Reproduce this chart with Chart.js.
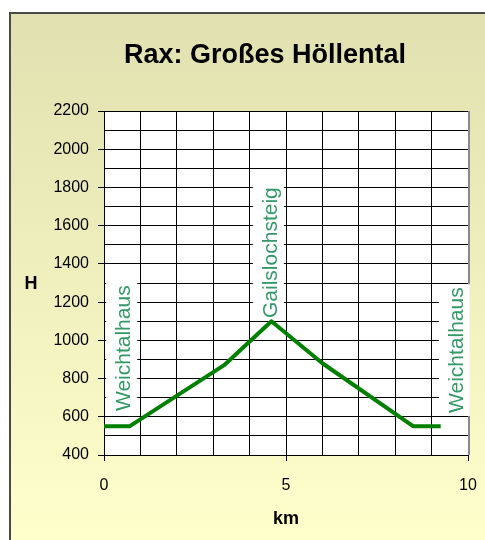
<!DOCTYPE html>
<html><head><meta charset="utf-8">
<script src="https://cdn.jsdelivr.net/npm/chart.js@4.4.1/dist/chart.umd.min.js"></script>
<style>html,body{margin:0;padding:0;background:#fff;}canvas{display:block;}</style>
</head><body>
<canvas id="c" width="485" height="540"></canvas>
<script>
// ---- data ----
const distanceKm = [0, 0.7, 3.3, 4.6, 6.0, 8.5, 9.25];
const elevationM = [550, 550, 870, 1100, 880, 550, 550];
const placeNames = ['Weichtalhaus', 'Gailslochsteig', 'Weichtalhaus'];
const placeKm = [0.72, 4.75, 9.86];
const placeElev = [630, 1117, 620];
const xTickLabels = [0, 5, 10];
const yTickLabels = [400, 600, 800, 1000, 1200, 1400, 1600, 1800, 2000, 2200];
const chartTitle = 'Rax: Großes Höllental';
const xTitle = 'km';
const yTitle = 'H';

const FONT = '"Liberation Sans", Arial, Helvetica, sans-serif';
Chart.defaults.font.family = FONT;
Chart.defaults.color = '#000';

const bgPlugin = {
  id: 'bg',
  afterLayout(chart) {
    // centre the title over the framed chart box, as in the original
    const t = chart.titleBlock;
    if (t) { t.left = 45; t.right = 485; }
  },
  beforeDraw(chart) {
    const {ctx, chartArea: a, width, height} = chart;
    ctx.save();
    ctx.fillStyle = '#fff';
    ctx.fillRect(0, 0, width, height);
    const g = ctx.createLinearGradient(0, 12, 0, height);
    g.addColorStop(0, '#E0E0B0');
    g.addColorStop(1, '#FFFFCC');
    ctx.fillStyle = g;
    ctx.fillRect(10, 12, width - 10, height - 12);
    ctx.strokeStyle = '#4a4a4a';
    ctx.lineWidth = 2;
    ctx.beginPath();
    ctx.moveTo(10, height);
    ctx.lineTo(10, 13);
    ctx.lineTo(width, 13);
    ctx.stroke();
    ctx.fillStyle = '#fff';
    ctx.fillRect(a.left, a.top, a.right - a.left, a.bottom - a.top);
    ctx.restore();
  },
  beforeDatasetsDraw(chart) {
    const {ctx, chartArea: a} = chart;
    ctx.save();
    ctx.strokeStyle = '#8a8a8a';
    ctx.lineWidth = 2;
    ctx.beginPath();
    ctx.moveTo(a.right + 1, a.top);
    ctx.lineTo(a.right + 1, a.bottom);
    ctx.stroke();
    // place labels
    const xs = chart.scales.x, ys = chart.scales.y;
    ctx.beginPath();
    ctx.rect(a.left, a.top, a.right - a.left + 2, a.bottom - a.top);
    ctx.clip();
    ctx.font = '21px ' + FONT;
    ctx.textBaseline = 'alphabetic';
    ctx.textAlign = 'left';
    placeNames.forEach((name, i) => {
      const px = xs.getPixelForValue(placeKm[i]);
      const py = ys.getPixelForValue(placeElev[i]);
      ctx.save();
      ctx.translate(px, py);
      ctx.rotate(-Math.PI / 2);
      const w = ctx.measureText(name).width;
      ctx.fillStyle = '#fff';
      ctx.fillRect(-3, -24, w + 6, 31);
      ctx.fillStyle = '#339966';
      ctx.fillText(name, 0, 0);
      ctx.restore();
    });
    ctx.restore();
  },
  afterDraw(chart) {
    const {ctx, chartArea: a} = chart;
    ctx.save();
    ctx.font = 'bold 18px ' + FONT;
    ctx.fillStyle = '#000';
    ctx.textAlign = 'center';
    ctx.textBaseline = 'middle';
    ctx.fillText(yTitle, a.left - 73, (a.top + a.bottom) / 2 + 1);
    ctx.restore();
  }
};

new Chart(document.getElementById('c'), {
  type: 'line',
  data: {
    datasets: [{
      data: distanceKm.map((x, i) => ({x, y: elevationM[i]})),
      borderColor: '#008000',
      borderWidth: 4,
      pointRadius: 0,
      tension: 0,
      borderJoinStyle: 'round',
      fill: false
    }]
  },
  options: {
    responsive: false,
    animation: false,
    devicePixelRatio: 1,
    layout: {padding: {top: 12, left: 0, right: 17, bottom: 0}},
    plugins: {
      legend: {display: false},
      tooltip: {enabled: false},
      title: {
        display: true,
        text: chartTitle,
        color: '#000',
        font: {size: 27, weight: 'bold', family: FONT},
        padding: {top: 27.8, bottom: 38.8}
      }
    },
    scales: {
      x: {
        type: 'linear',
        min: 0, max: 10,
        afterFit(s) { s.height = 85; s.paddingLeft = 10; s.paddingRight = 17; },
        afterBuildTicks(s) { s.ticks = []; for (let v = 0; v <= 10; v++) s.ticks.push({value: v}); },
        ticks: {
          autoSkip: false, maxRotation: 0, padding: 15,
          font: {size: 16},
          color: '#000',
          callback: v => xTickLabels.includes(v) ? String(v) : ''
        },
        grid: {
          color: '#000', lineWidth: 1, tickLength: 6,
          tickColor: c => (c.tick && xTickLabels.includes(c.tick.value)) ? '#000' : 'rgba(0,0,0,0)'
        },
        border: {color: '#000', width: 1},
        title: {display: true, text: xTitle, font: {size: 18, weight: 'bold'}, color: '#000', padding: {top: 0, bottom: 10}}
      },
      y: {
        type: 'linear',
        min: 400, max: 2200,
        afterFit(s) { s.width = 104; },
        afterBuildTicks(s) { s.ticks = []; for (let v = 400; v <= 2200; v += 100) s.ticks.push({value: v}); },
        ticks: {
          autoSkip: false, padding: 9,
          font: {size: 16},
          color: '#000',
          callback: v => yTickLabels.includes(v) ? String(v) : ''
        },
        grid: {
          color: '#000', lineWidth: 1, tickLength: 6,
          tickColor: c => (c.tick && yTickLabels.includes(c.tick.value)) ? '#000' : 'rgba(0,0,0,0)'
        },
        border: {color: '#000', width: 1}
      }
    }
  },
  plugins: [bgPlugin]
});
</script>
</body></html>
